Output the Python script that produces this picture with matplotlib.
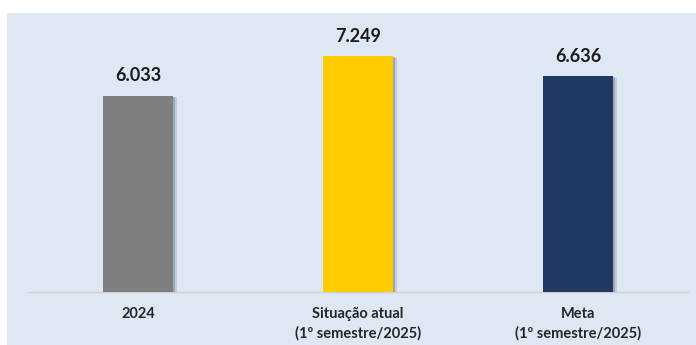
import matplotlib
matplotlib.use("Agg")
import matplotlib.pyplot as plt
import matplotlib.patheffects as pe
from matplotlib.patches import Rectangle

categories = ["2024", "Situação atual\n(1º semestre/2025)", "Meta\n(1º semestre/2025)"]
values = [6033, 7249, 6636]
colors = ["#7F7F7F", "#FFCC00", "#1F3864"]

plt.rcParams["font.family"] = ["Lato", "DejaVu Sans"]

W, H = 696, 345
fig = plt.figure(figsize=(W / 100, H / 100), dpi=100, facecolor="white")

# light blue panel behind the chart
fig.patches.append(Rectangle((7 / W, 0), 1 - 7 / W, 1 - 13 / H,
                             transform=fig.transFigure, facecolor="#DDE8F4",
                             edgecolor="none", zorder=-10))

ax = fig.add_axes([28 / W, 53 / H, 660 / W, (292 - 20) / H])
ax.set_facecolor("none")
ax.set_zorder(1)

x = range(len(categories))
bars = ax.bar(x, values, width=0.314, color=colors, zorder=3)
for b in bars:
    b.set_path_effects([
        pe.SimplePatchShadow(offset=(3, -1), shadow_rgbFace="#4a5460", alpha=0.18),
        pe.SimplePatchShadow(offset=(1.5, -0.5), shadow_rgbFace="#4a5460", alpha=0.3),
        pe.Normal()])

for xi, v in zip(x, values):
    label = f"{v:,}".replace(",", ".")
    ax.annotate(label, (xi, v), xytext=(0, 8.5), textcoords="offset points",
                ha="center", va="bottom", fontsize=13, fontweight="bold",
                color="#1c1c1c")

ax.set_xlim(-0.5, 2.5)
ax.set_ylim(0, 8370)
ax.set_xticks(list(x))
ax.set_xticklabels(categories, fontsize=10.5, fontweight="bold", color="#262626",
                   linespacing=1.45)
ax.tick_params(axis="x", length=0, pad=11)
ax.set_yticks([])
for s in ["top", "right", "left"]:
    ax.spines[s].set_visible(False)
ax.spines["bottom"].set_color("#D0D0D0")
ax.spines["bottom"].set_linewidth(1)

fig.savefig("out.png", dpi=100, facecolor="white")
